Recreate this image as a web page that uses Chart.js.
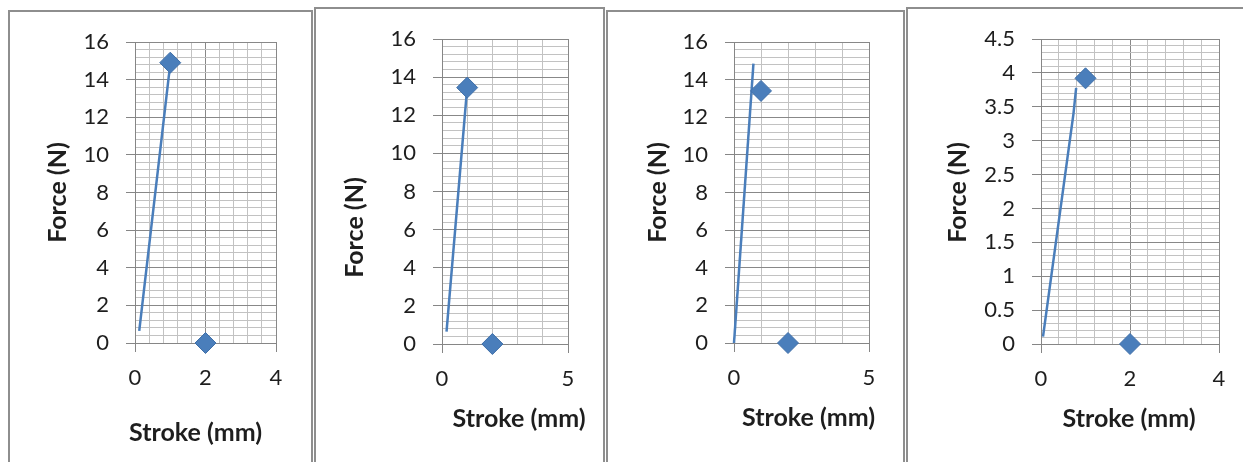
<!DOCTYPE html>
<html>
<head>
<meta charset="utf-8">
<script src="https://cdn.jsdelivr.net/npm/chart.js@4.4.1/dist/chart.umd.min.js"></script>
<style>
  html, body { margin: 0; padding: 0; background: #ffffff; width: 1243px; height: 462px; overflow: hidden; }
  .panel { position: absolute; border: 2px solid #8e8e8e; background: #ffffff; box-sizing: border-box; }
  canvas { position: absolute; left: 0; top: 0; }
</style>
</head>
<body>
<div class="panel" style="left:8px; top:10px; width:305px; height:500px;"></div>
<div class="panel" style="left:314px; top:7px; width:291px; height:500px;"></div>
<div class="panel" style="left:606px; top:10px; width:299px; height:500px;"></div>
<div class="panel" style="left:906px; top:7px; width:360px; height:500px;"></div>
<canvas id="c1" width="1243" height="462"></canvas>
<canvas id="c2" width="1243" height="462"></canvas>
<canvas id="c3" width="1243" height="462"></canvas>
<canvas id="c4" width="1243" height="462"></canvas>
<script>
// ---------- DATA ----------
const xTitle = 'Stroke (mm)';
const yTitle = 'Force (N)';

// Panel 1
const lineStroke1 = [0.12, 0.96, 0.99];
const lineForce1  = [0.65, 14.2, 14.6];
const markStroke1 = [1, 2];
const markForce1  = [14.9, 0];
const xTicks1 = ['0', '2', '4'];
const yTicks1 = ['0', '2', '4', '6', '8', '10', '12', '14', '16'];

// Panel 2
const lineStroke2 = [0.18, 0.99];
const lineForce2  = [0.65, 13.3];
const markStroke2 = [1, 2];
const markForce2  = [13.45, 0];
const xTicks2 = ['0', '5'];
const yTicks2 = ['0', '2', '4', '6', '8', '10', '12', '14', '16'];

// Panel 3
const lineStroke3 = [0.0, 0.72];
const lineForce3  = [0.0, 14.85];
const markStroke3 = [1, 2];
const markForce3  = [13.4, 0];
const xTicks3 = ['0', '5'];
const yTicks3 = ['0', '2', '4', '6', '8', '10', '12', '14', '16'];

// Panel 4
const lineStroke4 = [0.045, 0.73, 0.79];
const lineForce4  = [0.11, 3.4, 3.78];
const markStroke4 = [1, 2];
const markForce4  = [3.92, 0];
const xTicks4 = ['0', '2', '4'];
const yTicks4 = ['0', '0.5', '1', '1.5', '2', '2.5', '3', '3.5', '4', '4.5'];

// ---------- LAYOUT / STYLE ----------
const W = 1243, H = 462;
const panels = [
  { id: 'c1', lx: lineStroke1, ly: lineForce1, mx: markStroke1, my: markForce1, xt: xTicks1, yt: yTicks1,
    xMinor: 0.4, yMinor: 0.4, area: {l: 135, r: 276, t: 42, b: 343},
    xTitleOff: {dx: -10, dy: 90}, yTitleOff: {dx: -77, dy: 0} },
  { id: 'c2', lx: lineStroke2, ly: lineForce2, mx: markStroke2, my: markForce2, xt: xTicks2, yt: yTicks2,
    xMinor: 1, yMinor: 0.4, area: {l: 442, r: 568, t: 39, b: 344},
    xTitleOff: {dx: 14, dy: 75}, yTitleOff: {dx: -87, dy: 36} },
  { id: 'c3', lx: lineStroke3, ly: lineForce3, mx: markStroke3, my: markForce3, xt: xTicks3, yt: yTicks3,
    xMinor: 1, yMinor: 0.4, area: {l: 734, r: 869, t: 42, b: 343},
    xTitleOff: {dx: 7, dy: 75}, yTitleOff: {dx: -76, dy: 0} },
  { id: 'c4', lx: lineStroke4, ly: lineForce4, mx: markStroke4, my: markForce4, xt: xTicks4, yt: yTicks4,
    xMinor: 0.4, yMinor: 0.1, area: {l: 1041, r: 1219, t: 39, b: 344},
    xTitleOff: {dx: -1, dy: 75}, yTitleOff: {dx: -83, dy: 1} }
];

const FONT = 'Lato, Carlito, Calibri, "Open Sans", sans-serif';
const MAJOR = '#888888', MINOR = '#c2c2c2', AXIS = '#868686', TXT = '#1e1e1e';
const BLUE = '#4a7ebb';

function fmt(v) { return String(Math.round(v * 1000) / 1000); }

const titlePlugin = {
  id: 'axisTitlesFree',
  afterDraw(chart, args, opts) {
    const ca = chart.chartArea, ctx = chart.ctx;
    ctx.save();
    ctx.fillStyle = TXT;
    ctx.font = 'bold 25px ' + FONT;
    ctx.textAlign = 'center';
    ctx.textBaseline = 'middle';
    ctx.fillText(opts.x, (ca.left + ca.right) / 2 + opts.xOff.dx, ca.bottom + opts.xOff.dy);
    ctx.translate(ca.left + opts.yOff.dx, (ca.top + ca.bottom) / 2 + opts.yOff.dy);
    ctx.rotate(-Math.PI / 2);
    ctx.fillText(opts.y, 0, 0);
    ctx.restore();
  }
};

function axis(minor, labels, fitFn) {
  const nums = labels.map(Number);
  const min = Math.min(...nums), max = Math.max(...nums);
  const isMajor = v => labels.indexOf(fmt(v)) !== -1;
  return {
    type: 'linear', min, max,
    afterFit: fitFn,
    border: { display: true, color: AXIS, width: 1 },
    grid: {
      color: c => isMajor(c.tick.value) ? MAJOR : MINOR,
      lineWidth: 1,
      drawTicks: true,
      tickLength: 9,
      tickColor: c => isMajor(c.tick.value) ? AXIS : 'rgba(0,0,0,0)'
    },
    ticks: {
      stepSize: minor, autoSkip: false, maxRotation: 0, minRotation: 0,
      padding: 17, color: TXT, font: { family: FONT, size: 22 },
      callback: v => isMajor(v) ? fmt(v) : ''
    }
  };
}

function build() {
  panels.forEach(p => {
    const a = p.area;
    const xs = axis(p.xMinor, p.xt, s => { s.height = H - a.b; });
    xs.ticks.padding = 13;
    new Chart(document.getElementById(p.id), {
      type: 'scatter',
      data: {
        datasets: [
          { label: 'Marks', data: p.mx.map((x, i) => ({x, y: p.my[i]})),
            showLine: false, clip: false, pointStyle: 'rectRot', pointRadius: 10.5, pointHoverRadius: 10.5,
            backgroundColor: BLUE, borderColor: '#3f6fa8', borderWidth: 1 },
          { label: 'Curve', data: p.lx.map((x, i) => ({x, y: p.ly[i]})),
            showLine: true, clip: false, pointRadius: 0, pointHoverRadius: 0,
            borderColor: BLUE, borderWidth: 2.5, backgroundColor: BLUE, tension: 0 }
        ]
      },
      options: {
        responsive: false, animation: false, devicePixelRatio: 1,
        layout: { padding: { left: 0, top: a.t, right: W - a.r, bottom: 0 } },
        plugins: {
          legend: { display: false }, tooltip: { enabled: false },
          axisTitlesFree: { x: xTitle, y: yTitle, xOff: p.xTitleOff, yOff: p.yTitleOff }
        },
        scales: {
          x: xs,
          y: axis(p.yMinor, p.yt, s => { s.width = a.l; })
        }
      },
      plugins: [titlePlugin]
    });
  });
}

if (document.fonts && document.fonts.load) {
  Promise.all([document.fonts.load('22px Lato'), document.fonts.load('bold 25px Lato')])
    .then(build, build);
} else { build(); }
</script>
</body>
</html>
